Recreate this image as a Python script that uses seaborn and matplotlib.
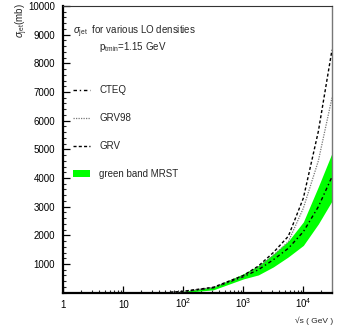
import matplotlib
matplotlib.use("Agg")
import matplotlib.pyplot as plt
import seaborn as sns
import numpy as np
import pandas as pd
from matplotlib.patches import Patch
from matplotlib.ticker import FixedLocator, LogLocator, NullFormatter, MultipleLocator

# ---- data ----
sqrt_s_curves = [60, 100, 316, 1000, 1778, 3162, 5623, 10000, 17783, 30000]
sigma_cteq = [10, 40, 170, 560, 800, 1150, 1550, 2128, 3000, 4046]
sigma_grv98 = [10, 45, 180, 580, 880, 1300, 1780, 2950, 4600, 6800]
sigma_grv = [10, 50, 190, 600, 930, 1400, 1970, 3300, 5630, 8470]

sqrt_s_band = [32, 100, 316, 1000, 1778, 3162, 5623, 10000, 17783, 30000]
mrst_low = [0, 5, 100, 480, 620, 900, 1250, 1650, 2400, 3200]
mrst_high = [10, 50, 200, 660, 950, 1350, 1800, 2470, 3700, 4870]

x_tick_vals = [1, 10, 100, 1000, 10000]
x_tick_labels = ["1", "10", r"$10^{2}$", r"$10^{3}$", r"$10^{4}$"]
y_tick_vals = [1000, 2000, 3000, 4000, 5000, 6000, 7000, 8000, 9000, 10000]

sns.set_style("ticks")
plt.rcParams["font.family"] = ["Liberation Sans", "DejaVu Sans"]
plt.rcParams["mathtext.fontset"] = "custom"
plt.rcParams["mathtext.rm"] = "Liberation Sans"
plt.rcParams["mathtext.it"] = "Liberation Sans:italic"
plt.rcParams["mathtext.bf"] = "Liberation Sans:bold"

W, H = 338, 334
fig = plt.figure(figsize=(W / 100, H / 100), dpi=100)
L, R, T, B = 63.3, 332.0, 6.0, 292.7
ax = fig.add_axes([L / W, 1 - B / H, (R - L) / W, (B - T) / H])

ax.fill_between(sqrt_s_band, mrst_low, mrst_high, color="#00ff00", lw=0, zorder=1)

df_c = pd.DataFrame({"x": sqrt_s_curves, "y": sigma_cteq})
df_g98 = pd.DataFrame({"x": sqrt_s_curves, "y": sigma_grv98})
df_g = pd.DataFrame({"x": sqrt_s_curves, "y": sigma_grv})
sns.lineplot(data=df_c, x="x", y="y", ax=ax, color="black", lw=1.0,
             linestyle=(0, (2.5, 2, 1, 2)), zorder=3)
sns.lineplot(data=df_g98, x="x", y="y", ax=ax, color="#777777", lw=0.9,
             linestyle=(0, (1, 1)), zorder=3)
sns.lineplot(data=df_g, x="x", y="y", ax=ax, color="black", lw=1.0,
             linestyle=(0, (2.2, 1.6)), zorder=3)

ax.set_xscale("log")
ax.set_xlim(1, 30000)
ax.set_ylim(0, 10000)
ax.set_xlabel("")
ax.set_ylabel("")

ax.xaxis.set_major_locator(FixedLocator(x_tick_vals))
ax.set_xticklabels(x_tick_labels)
ax.xaxis.set_minor_locator(LogLocator(base=10, subs=np.arange(2, 10)))
ax.xaxis.set_minor_formatter(NullFormatter())
ax.yaxis.set_major_locator(FixedLocator(y_tick_vals))
ax.set_yticklabels([str(v) for v in y_tick_vals])
ax.yaxis.set_minor_locator(MultipleLocator(200))

ax.tick_params(which="major", direction="in", length=5, width=0.9,
               labelsize=7, colors="black", top=False, right=False)
ax.tick_params(which="minor", direction="in", length=2.5, width=0.8,
               top=False, right=False)
ax.tick_params(axis="y", which="major", pad=6)
ax.tick_params(axis="x", which="major", pad=11)
for lab in ax.get_xticklabels():
    lab.set_va("baseline")

for s in ["left", "bottom"]:
    ax.spines[s].set_linewidth(1.6)
    ax.spines[s].set_color("black")
ax.spines["top"].set_linewidth(0.8)
ax.spines["top"].set_color("#333333")
ax.spines["right"].set_linewidth(1.0)
ax.spines["right"].set_color("#777777")
ax.spines["top"].set_visible(True)
ax.spines["right"].set_visible(True)

lines = ax.get_lines()
handles = [lines[0], lines[1], lines[2],
           Patch(facecolor="#00ff00", edgecolor="none")]
labels = ["CTEQ", "GRV98", "GRV", "green band MRST"]
ax.legend(handles, labels, loc="upper left",
          bbox_to_anchor=((73 - L) / (R - L), (B - 85.0) / (B - T)),
          frameon=False, fontsize=7, borderpad=0, borderaxespad=0,
          handlelength=1.75, handletextpad=0.95, labelspacing=1.85)

ax.text((73 - L) / (R - L), (B - 32) / (B - T),
        r"$\sigma_{\rm jet}$  for various LO densities",
        transform=ax.transAxes, fontsize=7, va="center", ha="left")
ax.text((99 - L) / (R - L), (B - 46.7) / (B - T),
        r"p$_{\rm tmin}$=1.15 GeV",
        transform=ax.transAxes, fontsize=7, va="center", ha="left")

fig.text(21.5 / W, 1 - 21 / H, r"$\sigma_{\rm jet}$(mb)", rotation=90,
         fontsize=7, ha="center", va="center")
fig.text(333 / W, 1 - 321 / H, "\u221as ( GeV )", fontsize=6,
         ha="right", va="center")

fig.savefig("out.png", dpi=100)
